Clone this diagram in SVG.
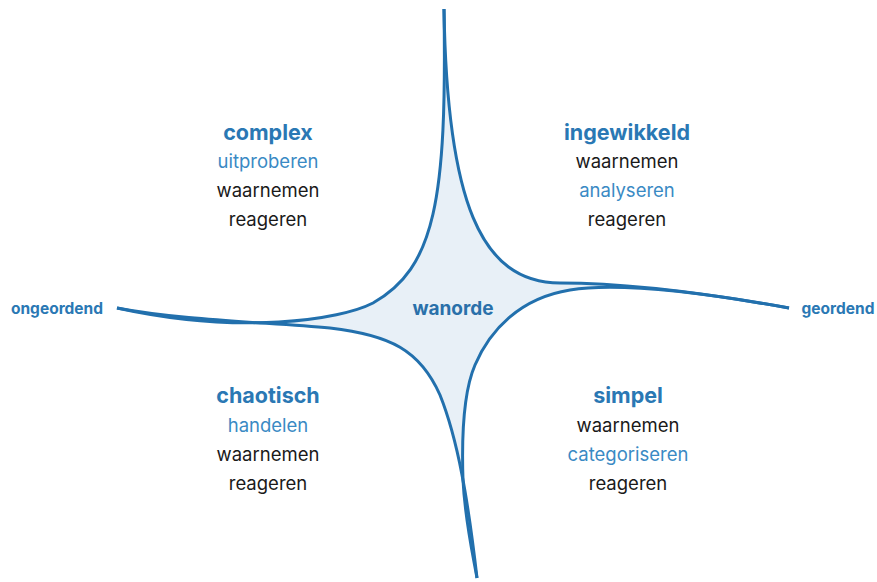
<svg xmlns="http://www.w3.org/2000/svg" width="877" height="582" viewBox="0 0 877 582">
<style>
.t{font-family:Inter,"Noto Sans","Liberation Sans",sans-serif;text-anchor:middle}
.h{font-size:21.5px;font-weight:700;fill:#2a78b4}
.a{font-size:18.5px;fill:#3a8ac4}
.b{font-size:18.5px;fill:#1a1a1a}
.e{font-size:15.5px;font-weight:700;fill:#2a78b4}
.c{fill:none;stroke:#2270ad;stroke-width:3;stroke-linecap:butt}
</style>
<g id="connectors">
<path d="M444,9 C447,200 435,268 373,303 C340,320 240,335 117,308 C180,320 260,322 330,328 C390,335 420,350 440,395 C458,440 468,500 477,578 C472,550 465,520 463,480 C462,450 462,395 475,365 C490,330 520,298 570,290 C620,282 700,292 789,308 C700,292 620,283 560,283 C480,283 447,200 444,9 Z" fill="#e8f0f7" stroke="none"/>
<path class="c" d="M444,9 C447,200 435,268 373,303 C340,320 240,335 117,308"/>
<path class="c" d="M444,9 C447,200 480,283 560,283 C620,283 700,292 789,308"/>
<path class="c" d="M789,308 C700,292 620,282 570,290 C520,298 490,330 475,365 C462,395 462,450 463,480 C465,520 472,550 477,578"/>
<path class="c" d="M477,578 C468,500 458,440 440,395 C420,350 390,335 330,328 C260,322 180,320 117,308"/>
</g>
<g id="wanorde"><text class="t" x="453" y="315" style="font-size:19px;font-weight:700;fill:#2a70aa">wanorde</text></g>
<g id="ongeordend"><text class="t e" x="57" y="314">ongeordend</text></g>
<g id="geordend"><text class="t e" x="838" y="314">geordend</text></g>
<g id="complex">
<text class="t h" x="268" y="140">complex</text>
<text class="t a" x="268" y="168">uitproberen</text>
<text class="t b" x="268" y="197">waarnemen</text>
<text class="t b" x="268" y="226">reageren</text>
</g>
<g id="ingewikkeld">
<text class="t h" x="627" y="140">ingewikkeld</text>
<text class="t b" x="627" y="168">waarnemen</text>
<text class="t a" x="627" y="197">analyseren</text>
<text class="t b" x="627" y="226">reageren</text>
</g>
<g id="chaotisch">
<text class="t h" x="268" y="403">chaotisch</text>
<text class="t a" x="268" y="432">handelen</text>
<text class="t b" x="268" y="461">waarnemen</text>
<text class="t b" x="268" y="490">reageren</text>
</g>
<g id="simpel">
<text class="t h" x="628" y="403">simpel</text>
<text class="t b" x="628" y="432">waarnemen</text>
<text class="t a" x="628" y="461">categoriseren</text>
<text class="t b" x="628" y="490">reageren</text>
</g>
</svg>
